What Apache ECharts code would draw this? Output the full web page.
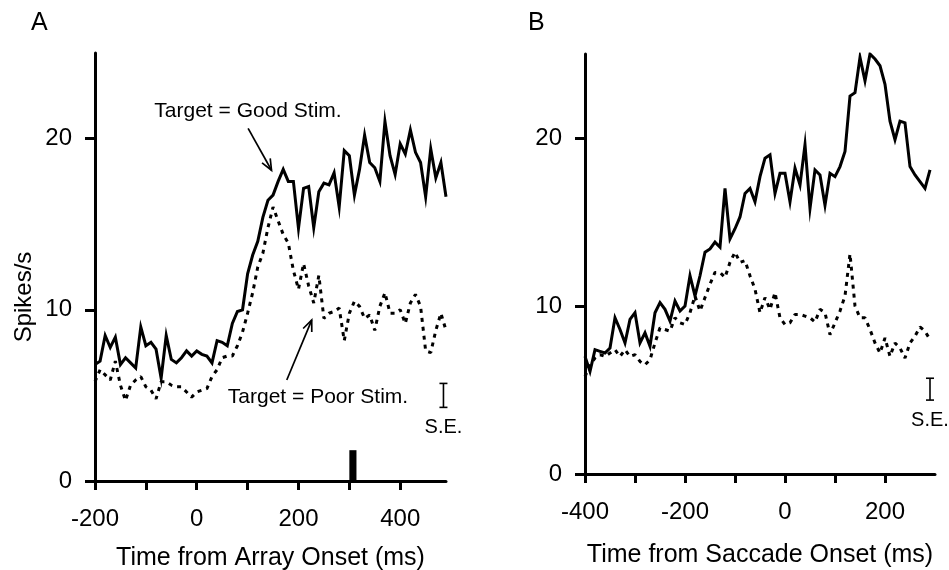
<!DOCTYPE html>
<html><head><meta charset="utf-8">
<script src="https://cdn.jsdelivr.net/npm/echarts@6/dist/echarts.min.js"></script>
<style>html,body{margin:0;padding:0;background:#fff}#c{width:949px;height:570px}</style>
</head><body><div id="c"></div>
<script>
// ---------- data ----------
const timeA = [-200,-190,-180,-170,-160,-150,-140,-130,-120,-110,-100,-90,-80,-70,-60,-50,-40,-30,-20,-10,
  0,10,20,30,40,50,60,70,80,90,100,110,120,130,140,150,160,170,180,190,
  200,210,220,230,240,250,260,270,280,290,300,310,320,330,340,350,360,370,380,390,
  400,410,420,430,440,450,460,470,480,490];
const goodA = [6.8,7.0,8.5,7.8,8.4,6.8,7.2,6.9,6.6,9.0,
  7.9,8.1,7.7,6.0,8.5,7.1,6.9,7.2,7.6,7.3,
  7.6,7.4,7.3,6.9,8.2,8.1,7.9,9.2,9.9,10.0,
  12.1,13.2,14.0,15.4,16.4,16.7,17.5,18.2,17.5,17.5,
  14.75,17.1,17.2,14.8,16.9,17.4,17.3,18.0,16.0,19.3,
  19.0,16.7,18.2,20.2,18.6,18.3,17.5,21.0,19.0,17.9,
  19.7,19.1,20.5,19.2,18.6,16.6,19.4,17.7,18.6,16.6];
const poorA = [5.8,6.5,6.2,5.9,7.0,5.6,4.7,5.6,5.9,6.1,
  5.5,5.3,4.8,5.8,5.8,5.6,5.5,5.5,5.2,4.9,
  5.2,5.3,5.4,6.1,6.5,7.2,7.3,7.3,7.9,8.7,
  9.8,11.0,12.5,13.3,14.8,16.0,15.2,14.4,13.9,12.3,
  11.2,12.7,11.4,10.4,12.0,9.5,9.8,9.9,10.1,8.2,
  9.8,10.5,10.2,9.5,9.7,8.8,10.2,11.0,9.8,9.8,
  10.0,9.2,10.4,10.9,10.2,7.6,7.5,8.8,9.8,8.8];

const timeB = [-400,-390,-380,-370,-360,-350,-340,-330,-320,-310,-300,-290,-280,-270,-260,-250,-240,-230,-220,-210,
  -200,-190,-180,-170,-160,-150,-140,-130,-120,-110,-100,-90,-80,-70,-60,-50,-40,-30,-20,-10,
  0,10,20,30,40,50,60,70,80,90,100,110,120,130,140,150,160,170,180,190,
  200,210,220,230,240,250,260,270,280,290];
const goodB = [7.0,6.1,7.4,7.3,7.2,7.5,9.3,8.6,7.8,9.2,
  9.6,7.8,8.4,7.6,9.6,10.2,9.8,9.1,10.3,9.7,
  10.0,11.8,10.6,11.8,13.2,13.4,13.8,13.5,17.0,14.0,
  14.6,15.3,16.7,17.0,16.2,17.7,18.8,19.0,16.7,17.9,
  17.9,16.2,18.2,17.2,19.6,15.8,18.1,17.8,16.0,17.9,
  17.7,18.3,19.2,22.5,22.7,24.8,23.4,25.0,24.7,24.3,
  23.2,21.0,19.9,21.0,20.9,18.3,17.8,17.4,17.0,18.1];
const poorB = [5.8,6.5,6.9,7.1,7.0,7.2,7.4,7.0,7.4,7.0,
  7.1,6.7,6.5,6.8,7.8,8.7,8.6,8.5,9.3,9.0,
  8.9,9.6,10.6,9.7,10.5,11.3,12.0,12.0,11.7,12.6,
  13.2,12.6,12.7,11.8,11.0,9.6,10.5,9.8,10.8,9.3,
  8.9,9.0,9.5,9.5,9.4,9.3,9.05,9.8,9.6,8.3,
  9.0,9.7,10.6,13.1,10.0,9.3,9.3,8.6,7.8,7.2,
  8.1,7.0,7.8,7.5,6.9,7.8,8.2,8.75,8.5,8.0];

const yTicks = [0,10,20];
const xTicksA = [-200,-100,0,100,200,300,400];
const xLabelsA = [-200,0,200,400];
const xTicksB = [-400,-300,-200,-100,0,100,200];
const xLabelsB = [-400,-200,0,200];

// stimulus marker (start ms, end ms, height)
const stimA = [[300,314,1.8]];
// S.E. bars (x, low, high)
const seA = [[485,4.3,5.7]];
const seB = [[290,4.4,5.7]];
// annotation arrows (from x, from y, to x, to y)
const arrowsA = [[101,20.6,147,18.15],[177,5.9,226,9.4]];

// ---------- chart ----------
const FONT = "'Liberation Sans', Arial, Helvetica, sans-serif";
const chart = echarts.init(document.getElementById('c'), null, {renderer:'canvas'});

function xAxisCfg(idx, min, max, ticks, labels, name, gap){
  return {
    type:'value', gridIndex:idx, min:min, max:max,
    axisLine:{show:true, onZero:false, lineStyle:{color:'#000', width:3}},
    axisTick:{show:true, length:9, lineStyle:{color:'#000', width:3}, customValues:ticks},
    axisLabel:{color:'#000', fontSize:24, fontFamily:FONT, margin:26, customValues:labels},
    splitLine:{show:false},
    name:name, nameLocation:'middle', nameGap:gap,
    nameTextStyle:{color:'#000', fontSize:25, fontFamily:FONT}
  };
}
function yAxisCfg(idx){
  return {
    type:'value', gridIndex:idx, min:0, max:25,
    axisLine:{show:true, onZero:false, lineStyle:{color:'#000', width:3}},
    axisTick:{show:true, length:10, lineStyle:{color:'#000', width:3}, customValues:yTicks},
    axisLabel:{color:'#000', fontSize:24, fontFamily:FONT, margin:23, customValues:yTicks},
    splitLine:{show:false}
  };
}
function pairs(t, v){ return t.map((x,i)=>[x, v[i]]); }

function lineSeries(xi, t, v, dashed){
  return {
    type:'line', xAxisIndex:xi, yAxisIndex:xi, data:pairs(t,v),
    symbol:'none', showSymbol:false, silent:true, animation:false,
    lineStyle: dashed ? {color:'#000', width:3, type:[4,5], cap:'butt'} : {color:'#000', width:3, join:'miter'}
  };
}

function seRender(params, api){
  const x = api.value(0);
  const lo = api.coord([x, api.value(1)]);
  const hi = api.coord([x, api.value(2)]);
  const w = 4;
  return {type:'group', children:[
    {type:'line', shape:{x1:lo[0],y1:lo[1],x2:hi[0],y2:hi[1]}, style:{stroke:'#000',lineWidth:1.6}},
    {type:'line', shape:{x1:lo[0]-w,y1:lo[1],x2:lo[0]+w,y2:lo[1]}, style:{stroke:'#000',lineWidth:1.6}},
    {type:'line', shape:{x1:hi[0]-w,y1:hi[1],x2:hi[0]+w,y2:hi[1]}, style:{stroke:'#000',lineWidth:1.6}},
    {type:'text', style:{text:'S.E.', x:lo[0], y:lo[1]+10, align:'center', verticalAlign:'top',
      font:'20px ' + FONT, fill:'#000'}}
  ]};
}
function arrowRender(params, api){
  const p0 = api.coord([api.value(0), api.value(1)]);
  const p1 = api.coord([api.value(2), api.value(3)]);
  const ang = Math.atan2(p1[1]-p0[1], p1[0]-p0[0]);
  const L = 12, a = 0.4;
  const h1 = [p1[0]-L*Math.cos(ang-a), p1[1]-L*Math.sin(ang-a)];
  const h2 = [p1[0]-L*Math.cos(ang+a), p1[1]-L*Math.sin(ang+a)];
  return {type:'group', children:[
    {type:'line', shape:{x1:p0[0],y1:p0[1],x2:p1[0],y2:p1[1]}, style:{stroke:'#000',lineWidth:1.7}},
    {type:'polyline', shape:{points:[h1,p1,h2]}, style:{stroke:'#000',lineWidth:1.7,fill:null}}
  ]};
}
function stimRender(params, api){
  const a = api.coord([api.value(0), api.value(2)]);
  const b = api.coord([api.value(1), 0]);
  return {type:'rect', shape:{x:a[0], y:a[1], width:b[0]-a[0], height:b[1]-a[1]}, style:{fill:'#000'}};
}

const option = {
  backgroundColor:'#fff',
  animation:false,
  grid:[
    {left:95, top:53, width:351, height:428, containLabel:false, outerBoundsMode:'none'},
    {left:585, top:54, width:350, height:420, containLabel:false, outerBoundsMode:'none'}
  ],
  xAxis:[
    xAxisCfg(0, -200, 490, xTicksA, xLabelsA, 'Time from Array Onset (ms)', 65),
    xAxisCfg(1, -400, 300, xTicksB, xLabelsB, 'Time from Saccade Onset (ms)', 69)
  ],
  yAxis:[ yAxisCfg(0), yAxisCfg(1) ],
  series:[
    lineSeries(0, timeA, goodA, false),
    lineSeries(0, timeA, poorA, true),
    lineSeries(1, timeB, goodB, false),
    lineSeries(1, timeB, poorB, true),
    {type:'custom', xAxisIndex:0, yAxisIndex:0, renderItem:stimRender, data:stimA,
      encode:{x:[0,1], y:[2]}, silent:true, clip:false},
    {type:'custom', xAxisIndex:0, yAxisIndex:0, renderItem:seRender, data:seA,
      encode:{x:[0], y:[1,2]}, silent:true, clip:false},
    {type:'custom', xAxisIndex:1, yAxisIndex:1, renderItem:seRender, data:seB,
      encode:{x:[0], y:[1,2]}, silent:true, clip:false},
    {type:'custom', xAxisIndex:0, yAxisIndex:0, renderItem:arrowRender, data:arrowsA,
      encode:{x:[0,2], y:[1,3]}, silent:true, clip:false}
  ],
  graphic:[
    {type:'text', left:31, top:11, style:{text:'A', font:'25px ' + FONT, fill:'#000'}},
    {type:'text', left:528, top:11, style:{text:'B', font:'25px ' + FONT, fill:'#000'}},
    {type:'text', x:24, y:297, rotation:Math.PI/2,
      style:{text:'Spikes/s', font:'24px ' + FONT, fill:'#000', align:'center', verticalAlign:'middle'}},
    {type:'text', x:248, y:111, style:{text:'Target = Good Stim.', font:'21px ' + FONT, fill:'#000', align:'center', verticalAlign:'middle'}},
    {type:'text', x:318, y:397, style:{text:'Target = Poor Stim.', font:'21px ' + FONT, fill:'#000', align:'center', verticalAlign:'middle'}}
  ]
};
chart.setOption(option);
</script>
</body></html>
